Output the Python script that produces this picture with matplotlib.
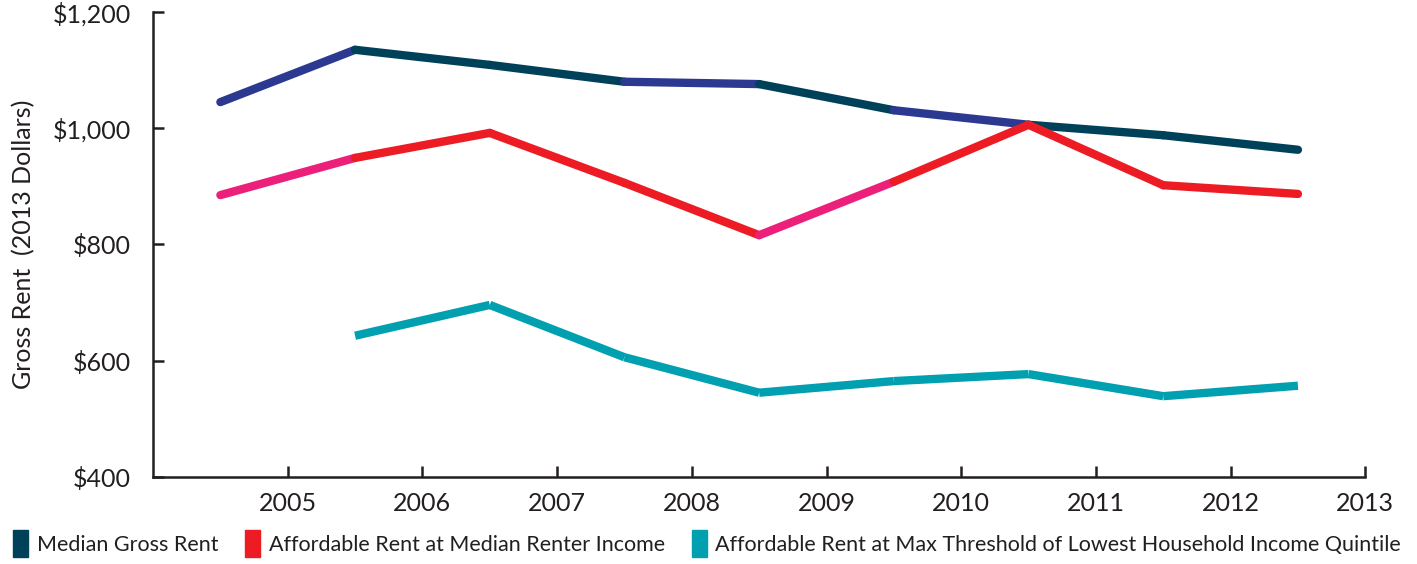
import matplotlib.pyplot as plt
from matplotlib.patches import Patch
import numpy as np

plt.rcParams['font.family'] = ['Lato', 'DejaVu Sans']

years = [2005, 2006, 2007, 2008, 2009, 2010, 2011, 2012, 2013]
median_rent = [1045, 1135, 1109, 1080, 1076, 1031, 1006, 988, 963]
affordable_median = [885, 949, 992, 906, 816, 908, 1006, 902, 887]
affordable_lowest = [np.nan, 643, 696, 606, 545, 565, 577, 539, 557]

labels = ["Median Gross Rent",
          "Affordable Rent at Median Renter Income",
          "Affordable Rent at Max Threshold of Lowest Household Income Quintile"]

navy = '#00415a'
indigo = '#2b3990'
red = '#ed1c24'
pink = '#ec1f7a'
cyan = '#00a0b0'

# each segment gets its own colour
median_colors = [indigo, navy, navy, indigo, navy, indigo, navy, navy]
afford_colors = [pink, red, red, red, pink, red, red, red]
lowest_colors = [cyan] * 8

fig = plt.figure(figsize=(14.17, 5.64), dpi=100)
ax = fig.add_axes([0.108, 0.1543, 0.8555, 0.8244])

x = np.array(years) - 0.5

def draw_segments(vals, colors, cap):
    for i in range(len(vals) - 1):
        ax.plot(x[i:i + 2], vals[i:i + 2], color=colors[i], lw=6,
                solid_capstyle=cap, solid_joinstyle='round')

draw_segments(median_rent, median_colors, 'round')
draw_segments(affordable_median, afford_colors, 'round')
draw_segments(affordable_lowest, lowest_colors, 'butt')

ax.set_xlim(2004, 2013)
ax.set_ylim(400, 1200)
ax.set_xticks(range(2005, 2014))
ax.set_yticks([400, 600, 800, 1000, 1200])
ax.set_yticklabels(['$400', '$600', '$800', '$1,000', '$1,200'])

for side in ['top', 'right']:
    ax.spines[side].set_visible(False)
for side in ['left', 'bottom']:
    ax.spines[side].set_linewidth(1.8)
    ax.spines[side].set_color('#231f20')

ax.tick_params(axis='both', direction='in', length=8, width=1.8,
               color='#231f20', labelsize=18, labelcolor='#231f20')
ax.tick_params(axis='y', pad=16)
ax.tick_params(axis='x', pad=11)

ax.set_ylabel("Gross Rent  (2013 Dollars)", fontsize=18, color='#231f20')
ax.yaxis.set_label_coords(-0.097, 0.5)

handles = [Patch(color=navy), Patch(color=red), Patch(color=cyan)]
fig.legend(handles, labels, loc='lower left', bbox_to_anchor=(0.0, -0.01),
           ncol=3, frameon=False, fontsize=15.5, handlelength=0.7,
           handleheight=1.5, handletextpad=0.4, columnspacing=1.25,
           borderaxespad=0.2, labelcolor='#231f20')

fig.savefig('out.png', dpi=100)
